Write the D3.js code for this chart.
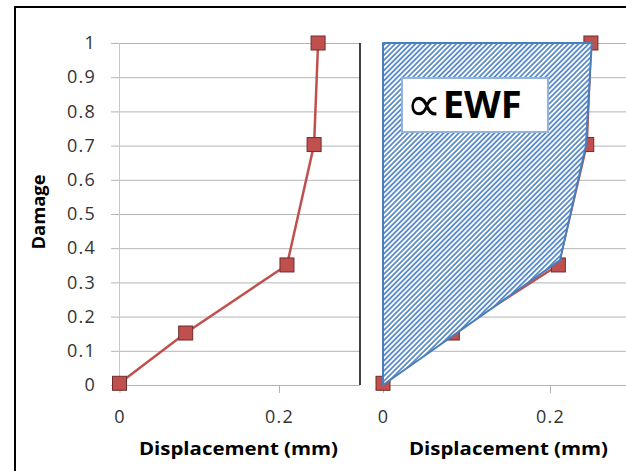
<!DOCTYPE html>
<html>
<head>
<meta charset="utf-8">
<script src="https://cdn.jsdelivr.net/npm/d3@7"></script>
<style>
  body { margin: 0; background: #fff; }
  svg text { font-family: "Open Sans", "DejaVu Sans", sans-serif; }
</style>
</head>
<body>
<script>
// data
var displacement = [0, 0.083, 0.21, 0.244, 0.249];
var damage = [0.005, 0.152, 0.351, 0.703, 1.0];
// the hatched area outline (right panel)
var areaX = [0, 0.212, 0.243, 0.25, 0];
var areaY = [0, 0.365, 0.70, 1.0, 1.0];
var yTicks = [0, 0.1, 0.2, 0.3, 0.4, 0.5, 0.6, 0.7, 0.8, 0.9, 1];
var xTicks = [0, 0.2];

var width = 626, height = 471;

var svg = d3.select("body").append("svg")
    .attr("width", width)
    .attr("height", height);

// hatch pattern
var defs = svg.append("defs");
var pat = defs.append("pattern")
    .attr("id", "hatch")
    .attr("patternUnits", "userSpaceOnUse")
    .attr("width", 3.6)
    .attr("height", 3.6)
    .attr("patternTransform", "rotate(45)");
pat.append("rect").attr("width", 3.6).attr("height", 3.6).attr("fill", "#fff");
pat.append("rect").attr("width", 1.8).attr("height", 3.6).attr("fill", "#5a8ccb");

defs.append("clipPath").attr("id", "frame")
    .append("rect").attr("x", 15).attr("y", 7).attr("width", 700).attr("height", 600);

var y = d3.scaleLinear().domain([0, 1]).range([385, 43]);
var xL = d3.scaleLinear().domain([0, 0.2]).range([119.5, 279]);
var xR = d3.scaleLinear().domain([0, 0.2]).range([383, 550]);

// ---- left panel ----
var left = svg.append("g");

var gy = left.append("g")
    .attr("transform", "translate(111,0)")
    .call(d3.axisLeft(y).tickValues(yTicks).tickSizeInner(-249).tickSizeOuter(0).tickPadding(15)
        .tickFormat(function(d){ return d3.format("~g")(d); }));
gy.select(".domain").remove();
gy.selectAll("line").attr("stroke", "#b4b4b4");
gy.selectAll("text").attr("fill", "#333").style("font-size", "18px").attr("letter-spacing", 1.2);

left.append("line")
    .attr("x1", xL(0)).attr("x2", xL(0)).attr("y1", y(1)).attr("y2", y(0))
    .attr("stroke", "#c8c8c8");

var gx = left.append("g")
    .attr("transform", "translate(0,385)")
    .call(d3.axisBottom(xL).tickValues(xTicks).tickSize(8).tickPadding(17)
        .tickFormat(function(d){ return d3.format("~g")(d); }));
gx.select(".domain").remove();
gx.selectAll("line").attr("stroke", "#b4b4b4");
gx.selectAll("text").attr("fill", "#333").style("font-size", "18px").attr("letter-spacing", 1.2);

// black divider line
left.append("line")
    .attr("x1", 360).attr("x2", 360).attr("y1", y(1)).attr("y2", y(0))
    .attr("stroke", "#000").attr("stroke-width", 1.5);

var line = d3.line()
    .x(function(d){ return d[0]; })
    .y(function(d){ return d[1]; });

var ptsL = displacement.map(function(d, i){ return [xL(d), y(damage[i])]; });
left.append("path")
    .attr("d", line(ptsL))
    .attr("fill", "none")
    .attr("stroke", "#c0504d")
    .attr("stroke-width", 2.5);

left.selectAll("rect.mk")
    .data(ptsL)
    .enter()
        .append("rect")
        .attr("class", "mk")
        .attr("x", function(d){ return d[0] - 7; })
        .attr("y", function(d){ return d[1] - 7; })
        .attr("width", 14)
        .attr("height", 14)
        .attr("fill", "#c0504d")
        .attr("stroke", "#6e2c2a")
        .attr("stroke-width", 1);

left.append("text")
    .attr("x", 238.5).attr("y", 455)
    .attr("text-anchor", "middle")
    .attr("font-weight", "bold")
    .style("font-size", "18px")
    .attr("textLength", 199)
    .attr("lengthAdjust", "spacingAndGlyphs")
    .text("Displacement (mm)");

left.append("text")
    .attr("transform", "translate(45,212) rotate(-90)")
    .attr("text-anchor", "middle")
    .attr("font-weight", "bold")
    .style("font-size", "18px")
    .attr("textLength", 75)
    .attr("lengthAdjust", "spacingAndGlyphs")
    .text("Damage");

// ---- right panel ----
var right = svg.append("g").attr("clip-path", "url(#frame)");

var gy2 = right.append("g")
    .attr("transform", "translate(383,0)")
    .call(d3.axisLeft(y).tickValues(yTicks).tickSizeInner(-300).tickSizeOuter(0).tickFormat(""));
gy2.select(".domain").remove();
gy2.selectAll("line").attr("stroke", "#b4b4b4");

var gx2 = right.append("g")
    .attr("transform", "translate(0,385)")
    .call(d3.axisBottom(xR).tickValues(xTicks).tickSize(8).tickPadding(17)
        .tickFormat(function(d){ return d3.format("~g")(d); }));
gx2.select(".domain").remove();
gx2.selectAll("line").attr("stroke", "#b4b4b4");
gx2.selectAll("text").attr("fill", "#333").style("font-size", "18px").attr("letter-spacing", 1.2);

var ptsR = displacement.map(function(d, i){ return [xR(d), y(damage[i])]; });
right.append("path")
    .attr("d", line(ptsR))
    .attr("fill", "none")
    .attr("stroke", "#c0504d")
    .attr("stroke-width", 2.5);

right.selectAll("rect.mk")
    .data(ptsR)
    .enter()
        .append("rect")
        .attr("class", "mk")
        .attr("x", function(d){ return d[0] - 7; })
        .attr("y", function(d){ return d[1] - 7; })
        .attr("width", 14)
        .attr("height", 14)
        .attr("fill", "#c0504d")
        .attr("stroke", "#6e2c2a")
        .attr("stroke-width", 1);

var area = areaX.map(function(d, i){ return [xR(d), y(areaY[i])]; });
right.append("path")
    .attr("d", line(area) + "Z")
    .attr("fill", "url(#hatch)")
    .attr("stroke", "#4a7ebb")
    .attr("stroke-width", 2)
    .attr("stroke-linejoin", "round");

right.append("rect")
    .attr("x", 402).attr("y", 78).attr("width", 146).attr("height", 54)
    .attr("fill", "#fff")
    .attr("stroke", "#8fb4e0")
    .attr("stroke-width", 2);

var lbl = right.append("text")
    .attr("x", 406).attr("y", 118)
    .style("font-size", "38px");
lbl.append("tspan")
    .style("font-family", "'DejaVu Sans', sans-serif")
    .style("font-size", "50px")
    .attr("font-weight", "normal")
    .attr("dy", 3)
    .text("\u221D");
lbl.append("tspan")
    .attr("font-weight", "bold")
    .attr("dy", -3)
    .attr("dx", 1)
    .text("EWF");

right.append("text")
    .attr("x", 508.5).attr("y", 455)
    .attr("text-anchor", "middle")
    .attr("font-weight", "bold")
    .style("font-size", "18px")
    .attr("textLength", 199)
    .attr("lengthAdjust", "spacingAndGlyphs")
    .text("Displacement (mm)");

// outer frame
svg.append("rect")
    .attr("x", 15).attr("y", 7).attr("width", 700).attr("height", 600)
    .attr("fill", "none")
    .attr("stroke", "#000")
    .attr("stroke-width", 2);
</script>
</body>
</html>
